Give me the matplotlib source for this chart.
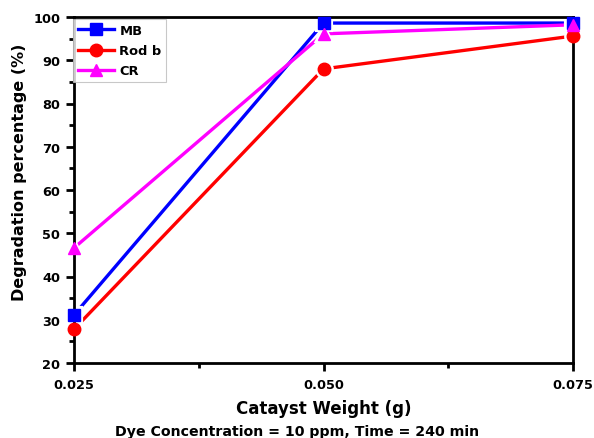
import matplotlib
matplotlib.use("Agg")
import matplotlib.pyplot as plt
from matplotlib.ticker import MultipleLocator

plt.rcParams['font.family'] = ['DejaVu Sans']
plt.rcParams['font.weight'] = 'bold'

weights = [0.025, 0.050, 0.075]
mb = [31.1, 98.6, 98.6]
rodb = [27.8, 88.0, 95.6]
cr = [46.6, 96.1, 98.2]

series = [
    ("MB", mb, "#0000ff", "s"),
    ("Rod b", rodb, "#ff0000", "o"),
    ("CR", cr, "#ff00ff", "^"),
]

fig = plt.figure(figsize=(5.94, 4.39), dpi=100)
ax = fig.add_axes([74 / 594, 1 - 364 / 439, 499 / 594, 346 / 439])

handles = []
for name, vals, color, mk in series:
    ax.plot(weights, vals, color=color, lw=2.4, zorder=2, solid_capstyle='butt')
    # white halo so lines stop short of the markers
    ax.plot(weights, vals, ls='none', marker=mk, ms=10.5, mfc='white', mec='white',
            mew=3.0, zorder=2.2, clip_on=False)
    ax.plot(weights, vals, ls='none', marker=mk, ms=9, mfc=color, mec=color,
            zorder=3, clip_on=False)
    h, = ax.plot([], [], color=color, lw=2.4, marker=mk, ms=9, mfc=color, mec=color)
    handles.append(h)

ax.set_xlim(0.025, 0.075)
ax.set_ylim(20, 100)
ax.set_xticks([0.025, 0.050, 0.075])
ax.set_xticklabels(["0.025", "0.050", "0.075"])
ax.xaxis.set_minor_locator(MultipleLocator(0.0125))
ax.yaxis.set_major_locator(MultipleLocator(10))
ax.yaxis.set_minor_locator(MultipleLocator(5))

for s in ax.spines.values():
    s.set_linewidth(2.0)
ax.tick_params(which='major', direction='out', length=6, width=2.0, labelsize=9.3)
ax.tick_params(which='minor', direction='out', length=3.5, width=2.0)
ax.tick_params(top=False, right=False, which='both')
ax.tick_params(axis='x', pad=5)
ax.tick_params(axis='y', pad=4)

ax.set_xlabel("Catayst Weight (g)", fontsize=12, fontweight='bold')
ax.xaxis.set_label_coords(0.5, -(409 - 364) / 346)
ax.xaxis.label.set_va('center')
ax.set_ylabel("Degradation percentage (%)", fontsize=11.5, fontweight='bold')
ax.yaxis.set_label_coords(-(74 - 20) / 499, (364 - 172) / 346)
ax.yaxis.label.set_va('center')
fig.text(0.5, 1 - 432 / 439, "Dye Concentration = 10 ppm, Time = 240 min",
         ha='center', va='center', fontsize=10.2, fontweight='bold')

leg = ax.legend(handles, [s[0] for s in series], loc='upper left',
                bbox_to_anchor=(-0.002, 0.993), fontsize=9.4, frameon=True,
                fancybox=False, edgecolor='#bbbbbb', handlelength=2.8,
                borderpad=0.35, labelspacing=0.55, handletextpad=0.4,
                borderaxespad=0.0)
leg.get_frame().set_linewidth(0.8)
for t in leg.get_texts():
    t.set_fontweight('bold')

fig.savefig("out.png", dpi=100)
